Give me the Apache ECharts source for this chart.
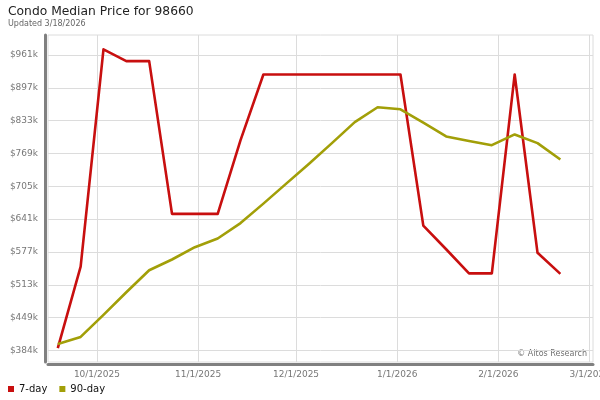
<!DOCTYPE html>
<html>
<head>
<meta charset="utf-8">
<script src="https://cdn.jsdelivr.net/npm/echarts@6/dist/echarts.min.js"></script>
<style>
html,body{margin:0;padding:0;background:#fff;}
#chart{width:600px;height:400px;}
</style>
</head>
<body>
<div id="chart"></div>
<script>
// Weekly dates (Fridays)
var dates = ['2025-09-19','2025-09-26','2025-10-03','2025-10-10','2025-10-17','2025-10-24','2025-10-31',
  '2025-11-07','2025-11-14','2025-11-21','2025-11-28','2025-12-05','2025-12-12','2025-12-19','2025-12-26',
  '2026-01-02','2026-01-09','2026-01-16','2026-01-23','2026-01-30','2026-02-06','2026-02-13','2026-02-20'];
// values in $ thousands
var sevenDay = [389, 548, 972, 949, 949, 651, 651, 651, 795, 923, 923, 923, 923, 923, 923, 923,
  628, 582, 535, 535, 923, 575, 534];
var ninetyDay = [397, 411, 454, 498, 541, 562, 586, 603, 633, 671, 710, 749, 789, 830, 859, 855,
  829, 802, 793, 785, 806, 789, 757];
var yTickValues = [384.4, 448.5, 512.6, 576.6, 640.7, 704.8, 768.8, 832.9, 897.0, 961.0];
var yTickLabels = ['$384k','$449k','$513k','$577k','$641k','$705k','$769k','$833k','$897k','$961k'];
var xTickDates = ['2025-10-01','2025-11-01','2025-12-01','2026-01-01','2026-02-01','2026-03-01'];
var xTickLabels = ['10/1/2025','11/1/2025','12/1/2025','1/1/2026','2/1/2026','3/1/2026'];

var FONT = 'DejaVu Sans';
var parse = function (s) { return echarts.time.parse(s).getTime(); };
var xTickValues = xTickDates.map(parse);

function pairs(vals) { return dates.map(function (d, i) { return [parse(d), vals[i]]; }); }

var chart = echarts.init(document.getElementById('chart'), null, {renderer: 'canvas'});
chart.setOption({
  animation: false,
  backgroundColor: '#fff',
  title: {
    text: 'Condo Median Price for 98660',
    subtext: 'Updated 3/18/2026',
    left: 4, top: 4, itemGap: 2, padding: [2, 4],
    textStyle: {fontFamily: FONT, fontSize: 12.3, fontWeight: 'normal', color: '#222'},
    subtextStyle: {fontFamily: FONT, fontSize: 8, color: '#666'}
  },
  legend: {
    left: 3, top: 379, itemWidth: 6, itemHeight: 6, itemGap: 12,
    icon: 'rect',
    textStyle: {fontFamily: FONT, fontSize: 10, color: '#111'},
    data: ['7-day', '90-day']
  },
  grid: {
    left: 48, right: 7, top: 35, bottom: 38,
    containLabel: false, outerBoundsMode: 'none',
    show: true, borderColor: '#dcdcdc', borderWidth: 1
  },
  xAxis: {
    type: 'value',
    min: parse('2025-09-16'), max: parse('2026-03-02'),
    offset: 2,
    axisLine: {show: true, onZero: false, lineStyle: {color: '#808080', width: 3}},
    axisTick: {show: false, customValues: xTickValues},
    axisLabel: {
      customValues: xTickValues, margin: 6,
      fontFamily: FONT, fontSize: 9, color: '#777',
      formatter: function (v) {
        var i = xTickValues.indexOf(v);
        return i >= 0 ? xTickLabels[i] : '';
      }
    },
    splitLine: {show: true, lineStyle: {color: '#dcdcdc', width: 1}}
  },
  yAxis: {
    type: 'value',
    min: 362, max: 1000,
    offset: 3,
    axisLine: {show: true, onZero: false, lineStyle: {color: '#808080', width: 3}},
    axisTick: {show: false, customValues: yTickValues},
    axisLabel: {
      customValues: yTickValues, margin: 7,
      fontFamily: FONT, fontSize: 9, color: '#777',
      formatter: function (v) {
        var i = yTickValues.indexOf(v);
        return i >= 0 ? yTickLabels[i] : '';
      }
    },
    splitLine: {show: true, lineStyle: {color: '#dcdcdc', width: 1}}
  },
  graphic: [{
    type: 'text', right: 13, top: 350,
    style: {text: '\u00A9 Altos Research', font: '8px "DejaVu Sans"', fill: '#707070'}
  }],
  series: [
    {
      name: '7-day', type: 'line', data: pairs(sevenDay),
      showSymbol: false, symbol: 'none',
      itemStyle: {color: '#c80f0f'},
      lineStyle: {color: '#c80f0f', width: 2.6, join: 'round'}
    },
    {
      name: '90-day', type: 'line', data: pairs(ninetyDay),
      showSymbol: false, symbol: 'none',
      itemStyle: {color: '#a29f08'},
      lineStyle: {color: '#a29f08', width: 2.6, join: 'round'}
    }
  ]
});
</script>
</body>
</html>
